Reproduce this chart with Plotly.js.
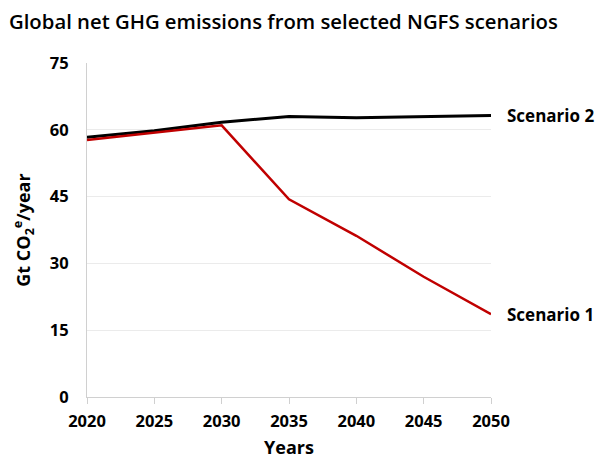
<!DOCTYPE html>
<html>
<head>
<meta charset="utf-8">
<script src="https://cdn.plot.ly/plotly-3.0.1.min.js"></script>
<style>html,body{margin:0;padding:0;background:#fff;}#chart{width:600px;height:459px;}</style>
</head>
<body>
<div id="chart"></div>
<script>
const years = [2020, 2025, 2030, 2035, 2040, 2045, 2050];
const scenario1 = [57.7, 59.4, 61.0, 44.4, 36.2, 27.0, 18.6];
const scenario2 = [58.3, 59.8, 61.7, 63.0, 62.7, 63.0, 63.2];
const seriesNames = ["Scenario 1", "Scenario 2"];
const yTicks = [0, 15, 30, 45, 60, 75];
const xTicks = [2020, 2025, 2030, 2035, 2040, 2045, 2050];

const FONT = "Open Sans, Noto Sans, sans-serif";

const traces = [
  {x: years, y: scenario2, mode: "lines", name: seriesNames[1], line: {color: "#000000", width: 3}},
  {x: years, y: scenario1, mode: "lines", name: seriesNames[0], line: {color: "#c00000", width: 2.5}}
];

const layout = {
  width: 600, height: 459,
  margin: {l: 87, r: 109, t: 63, b: 62},
  paper_bgcolor: "#ffffff", plot_bgcolor: "#ffffff",
  showlegend: false,
  font: {family: FONT, color: "#000"},
  title: {text: "Global net GHG emissions from selected NGFS scenarios", x: 0.015, xanchor: "left", y: 0.952, yanchor: "middle", font: {family: FONT, size: 20.3, color: "#000", weight: 600}},
  xaxis: {
    range: [2020, 2050], tickvals: xTicks, ticktext: xTicks.map(String),
    showgrid: false, zeroline: false, showline: true, linecolor: "#d0d0d0", linewidth: 1,
    ticks: "outside", ticklen: 6, tickcolor: "#d0d0d0", ticklabelstandoff: 3,
    tickfont: {family: FONT, size: 16.5, color: "#000", weight: "bold"},
    title: {text: "<b>Years</b>", font: {family: FONT, size: 18, color: "#000"}, standoff: 19}
  },
  yaxis: {
    range: [0, 75], tickvals: yTicks, ticktext: yTicks.map(String),
    showgrid: true, gridcolor: "#ebebeb", gridwidth: 1, zeroline: false,
    showline: true, linecolor: "#d0d0d0", linewidth: 1,
    ticks: "", ticklabelstandoff: 14,
    tickfont: {family: FONT, size: 16.5, color: "#000", weight: "bold"},
    title: {text: "<b>Gt CO<sub>2</sub><sup>e</sup>/year</b>", font: {family: FONT, size: 18, color: "#000"}, standoff: 14}
  },
  annotations: [
    {x: 1.035, xref: "paper", y: scenario2[scenario2.length - 1], yref: "y", text: "<b>" + seriesNames[1] + "</b>", showarrow: false, xanchor: "left", yanchor: "middle", font: {family: FONT, size: 17, color: "#000"}},
    {x: 1.035, xref: "paper", y: scenario1[scenario1.length - 1], yref: "y", text: "<b>" + seriesNames[0] + "</b>", showarrow: false, xanchor: "left", yanchor: "middle", font: {family: FONT, size: 17, color: "#000"}}
  ]
};

Plotly.newPlot("chart", traces, layout, {displayModeBar: false, staticPlot: true});
</script>
</body>
</html>
